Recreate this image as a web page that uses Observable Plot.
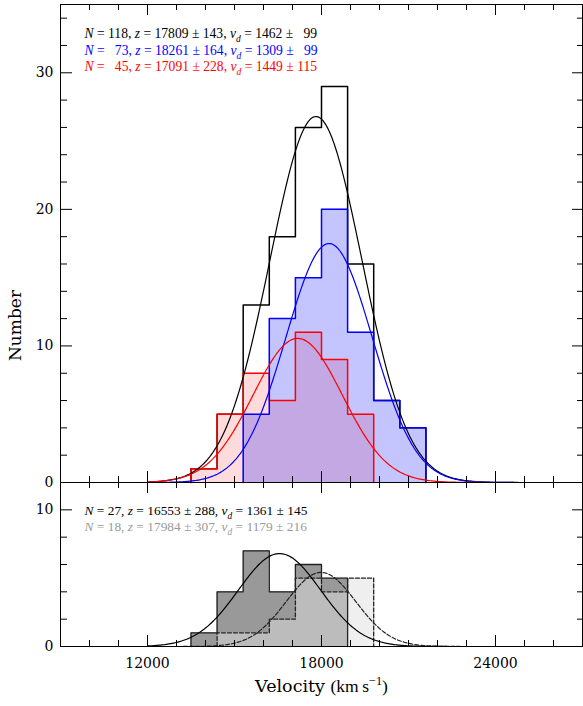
<!DOCTYPE html>
<html><head><meta charset="utf-8">
<script src="https://cdn.jsdelivr.net/npm/d3@7"></script>
<script src="https://cdn.jsdelivr.net/npm/@observablehq/plot@0.6"></script>
<style>
body{margin:0;background:#fff;}
#fig{position:relative;width:583px;height:706px;overflow:hidden;background:#fff;}
#fig svg{position:absolute;left:0;}
</style></head><body><div id="fig"></div>
<script>
// ---- data ----
const edges = [13500, 14400, 15300, 16200, 17100, 18000, 18900, 19800, 20700, 21600];
const totalCounts = [1, 5, 13, 18, 26, 29, 16, 6, 4];
const blueCounts  = [0, 0, 5, 12, 15, 20, 11, 6, 4];
const redCounts   = [1, 5, 8, 6, 11, 9, 5, 0, 0];
const darkCounts  = [1, 4, 7, 4, 6, 5, 0, 0, 0];
const lightCounts = [0, 1, 1, 2, 5, 4, 5, 0, 0];

// Gaussian fits (mean, width, peak) as drawn
const topMu = [17809, 18261, 17180];
const topSigma = [1590, 1490, 1540];
const topPeak = [26.8, 17.5, 10.55];
const topColors = ["black", "blue", "red"];
const botMu = [16553, 17984];
const botSigma = [1420, 1200];
const botPeak = [6.8, 5.42];

// legend values
const topN = [118, 73, 45], topZ = [17809, 18261, 17091], topZerr = [143, 164, 228];
const topVd = [1462, 1309, 1449], topVdErr = [99, 99, 115];
const botN = [27, 18], botZ = [16553, 17984], botZerr = [288, 307];
const botVd = [1361, 1179], botVdErr = [145, 216];
const botColors = ["black", "#9a9a9a"];

const xDomain = [9000, 27000];
const xMajor = [12000, 18000, 24000];
const xMinor = d3.range(10000, 27000, 1000).filter(v => !xMajor.includes(v));
const topYMajor = [0, 10, 20, 30];
const topYMinor = d3.range(2, 35, 2).filter(v => v % 10 !== 0);
const botYMajor = [0, 10];
const botYMinor = [2, 4, 6, 8];

// ---- helpers ----
function stepPoints(counts) {
  let i0 = counts.findIndex(c => c > 0);
  let i1 = counts.length - 1; while (counts[i1] === 0) i1--;
  const pts = [{x: edges[i0], y: 0}];
  for (let i = i0; i <= i1; i++) pts.push({x: edges[i], y: counts[i]});
  pts.push({x: edges[i1 + 1], y: 0});
  return pts;
}
function gauss(mu, s, a) {
  return d3.range(12000, 27001, 50).map(x => ({x, y: a * Math.exp(-0.5 * ((x - mu) / s) ** 2)}));
}
function tickMarks(H, W, yMaj, yMin) {
  const c = {stroke: "black", strokeWidth: 1};
  return [
    Plot.ruleX(xMajor, {...c, insetTop: H - 11}),
    Plot.ruleX(xMinor, {...c, insetTop: H - 6}),
    Plot.ruleX(xMajor, {...c, insetBottom: H - 11}),
    Plot.ruleX(xMinor, {...c, insetBottom: H - 6}),
    Plot.ruleY(yMaj, {...c, insetRight: W - 12}),
    Plot.ruleY(yMin, {...c, insetRight: W - 7}),
    Plot.ruleY(yMaj, {...c, insetLeft: W - 10}),
    Plot.ruleY(yMin, {...c, insetLeft: W - 5})
  ];
}
const FS = "\u2007";
const pad = (v, n) => FS.repeat(Math.max(0, n - String(v).length)) + v;
const rich = new Map();
function legendLine(N, z, ze, vd, vde, nPad) {
  const parts = [
    {t: "N", i: true}, {t: " = " + pad(N, nPad) + ", "},
    {t: "z", i: true}, {t: " = " + z + " ± " + ze + ", "},
    {t: "v", i: true}, {t: "d", i: true, sub: true},
    {t: " = " + vd + " ± " + pad(vde, 3)}
  ];
  const plain = parts.map(p => p.t).join("");
  rich.set(plain, {parts, family: "Liberation Serif"});
  return plain;
}
const xlabParts = [
  {t: "Velocity ", fam: "DejaVu Serif"}, {t: "(km\u2009s", fam: "Liberation Serif"},
  {t: "−1", fam: "Liberation Serif", sup: true}, {t: ")", fam: "Liberation Serif"}
];
const xlab = xlabParts.map(p => p.t).join("");
rich.set(xlab, {parts: xlabParts});

function applyRich(svg) {
  svg.querySelectorAll("text").forEach(el => {
    const r = rich.get(el.textContent);
    if (!r) return;
    const fs = parseFloat(el.getAttribute("font-size") || getComputedStyle(el).fontSize) || 14;
    el.textContent = "";
    el.setAttribute("style", "white-space:pre");
    let shift = 0;
    r.parts.forEach(p => {
      const ts = document.createElementNS("http://www.w3.org/2000/svg", "tspan");
      ts.textContent = p.t;
      if (p.i) ts.setAttribute("font-style", "italic");
      const fam = p.fam || r.family;
      if (fam) ts.setAttribute("font-family", fam);
      let target = 0;
      if (p.sub) { ts.setAttribute("font-size", fs * 0.7); target = fs * 0.3; }
      if (p.sup) { ts.setAttribute("font-size", fs * 0.7); target = -fs * 0.4; }
      if (target !== shift) { ts.setAttribute("dy", target - shift); shift = target; }
      el.appendChild(ts);
    });
  });
}

const fig = document.getElementById("fig");
const W = 583, FW = 522;

// ---- top panel ----
const topH = 483, topFH = 478;
const topPlot = Plot.plot({
  width: W, height: topH,
  marginLeft: 60, marginRight: 1, marginTop: 4, marginBottom: 1,
  style: {fontFamily: "DejaVu Serif", fontSize: "14px", background: "transparent", overflow: "visible"},
  x: {domain: xDomain, axis: null},
  y: {domain: [0, 35], ticks: topYMajor, tickSize: 0, tickPadding: 7, label: null},
  marks: [
    Plot.areaY(stepPoints(redCounts), {x: "x", y: "y", curve: "step-after", fill: "red", fillOpacity: 0.14}),
    Plot.areaY(stepPoints(blueCounts), {x: "x", y: "y", curve: "step-after", fill: "blue", fillOpacity: 0.23}),
    Plot.line(stepPoints(totalCounts), {x: "x", y: "y", curve: "step-after", stroke: "black", strokeWidth: 1.5}),
    Plot.line(stepPoints(redCounts), {x: "x", y: "y", curve: "step-after", stroke: "red", strokeWidth: 1.5}),
    Plot.line(stepPoints(blueCounts), {x: "x", y: "y", curve: "step-after", stroke: "blue", strokeWidth: 1.5}),
    ...topMu.map((m, k) => Plot.line(gauss(m, topSigma[k], topPeak[k]), {x: "x", y: "y", stroke: topColors[k], strokeWidth: 1.2})),
    Plot.frame({stroke: "black", strokeWidth: 1}),
    ...tickMarks(topFH, FW, topYMajor, topYMinor),
    ...topN.map((n, k) => Plot.text([legendLine(n, topZ[k], topZerr[k], topVd[k], topVdErr[k], 3)], {
      text: d => d, frameAnchor: "top-left", textAnchor: "start", lineAnchor: "middle",
      dx: 24, dy: 29.5 + 16.5 * k, fill: topColors[k], fontSize: 13.6
    })),
    Plot.text(["Number"], {text: d => d, frameAnchor: "left", textAnchor: "middle", lineAnchor: "middle",
      rotate: -90, dx: -45, dy: 82, fontSize: 17})
  ]
});
topPlot.style.top = "0px";
fig.appendChild(topPlot);
applyRich(topPlot);

// ---- bottom panel ----
const botTop = 478, botH = 228, botFH = 164;
const botPlot = Plot.plot({
  width: W, height: botH,
  marginLeft: 60, marginRight: 1, marginTop: 4, marginBottom: botH - 4 - botFH,
  style: {fontFamily: "DejaVu Serif", fontSize: "14px", background: "transparent", overflow: "visible"},
  x: {domain: xDomain, ticks: xMajor, tickSize: 0, tickPadding: 12, tickFormat: "d", label: null},
  y: {domain: [0, 12], ticks: botYMajor, tickSize: 0, tickPadding: 7, label: null},
  marks: [
    Plot.areaY(stepPoints(darkCounts), {x: "x", y: "y", curve: "step-after", fill: "#999999"}),
    Plot.areaY(stepPoints(lightCounts), {x: "x", y: "y", curve: "step-after", fill: "#e0e0e0", fillOpacity: 0.5}),
    Plot.line(stepPoints(darkCounts), {x: "x", y: "y", curve: "step-after", stroke: "#222", strokeWidth: 1.3}),
    Plot.line(stepPoints(lightCounts), {x: "x", y: "y", curve: "step-after", stroke: "#222", strokeWidth: 1.3, strokeDasharray: "4,2"}),
    Plot.line(gauss(botMu[0], botSigma[0], botPeak[0]), {x: "x", y: "y", stroke: "black", strokeWidth: 1.2}),
    Plot.line(gauss(botMu[1], botSigma[1], botPeak[1]), {x: "x", y: "y", stroke: "#222", strokeWidth: 1.2, strokeDasharray: "4,2"}),
    Plot.frame({stroke: "black", strokeWidth: 1}),
    ...tickMarks(botFH, FW, botYMajor, botYMinor),
    ...botN.map((n, k) => Plot.text([legendLine(n, botZ[k], botZerr[k], botVd[k], botVdErr[k], 2)], {
      text: d => d, frameAnchor: "top-left", textAnchor: "start", lineAnchor: "middle",
      dx: 24, dy: 28.7 + 15.5 * k, fill: botColors[k], fontSize: 13.4
    })),
    Plot.text([xlab], {text: d => d, frameAnchor: "bottom", textAnchor: "middle", lineAnchor: "middle",
      dy: 40, fontSize: 17.5})
  ]
});
botPlot.style.top = botTop + "px";
fig.appendChild(botPlot);
applyRich(botPlot);
</script></body></html>
